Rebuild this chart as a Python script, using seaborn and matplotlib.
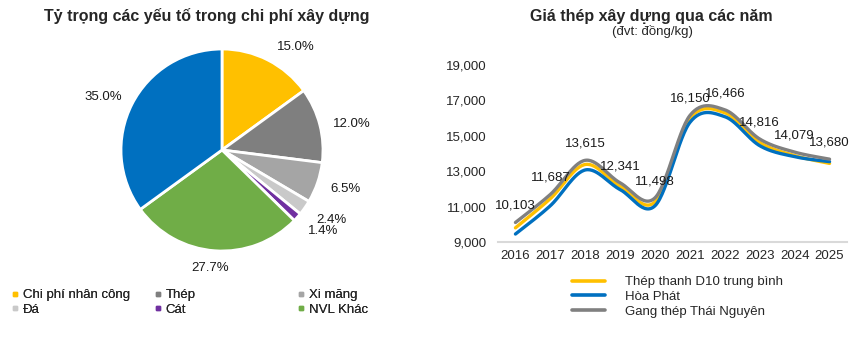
import numpy as np
import pandas as pd
import matplotlib
matplotlib.use("Agg")
import matplotlib.pyplot as plt
from matplotlib.lines import Line2D
import seaborn as sns

# pie data
pie_labels = ["Chi phí nhân công", "Thép", "Xi măng", "Đá", "Cát", "NVL Khác", ""]
pie_values = [15.0, 12.0, 6.5, 2.4, 1.4, 27.7, 35.0]
pie_colors = ["#FFC000", "#7F7F7F", "#A5A5A5", "#C9C9C9", "#7030A0", "#70AD47", "#0070C0"]

# steel price data (dong/kg)
years = [2016, 2017, 2018, 2019, 2020, 2021, 2022, 2023, 2024, 2025]
d10_avg = [9800, 11450, 13380, 12150, 11270, 15980, 16300, 14620, 13880, 13440]
hoa_phat = [9450, 11050, 13070, 11960, 11050, 15760, 16080, 14440, 13820, 13540]
gang_tn = [10103, 11687, 13615, 12341, 11498, 16150, 16466, 14816, 14079, 13680]
series_names = ["Thép thanh D10 trung bình", "Hòa Phát", "Gang thép Thái Nguyên"]
line_colors = ["#FFC000", "#0070C0", "#808080"]

sns.set_theme(style="white")
plt.rcParams["font.family"] = ["Liberation Sans", "DejaVu Sans"]

W, H = 867, 356
fig = plt.figure(figsize=(W / 100, H / 100), dpi=100)


def fx(px):
    return px / W


def fy(py):
    return 1 - py / H


# ---------------- pie ----------------
cx, cy, r = 222, 150, 101
lim = 1.03
size = 2 * r * lim
ax1 = fig.add_axes([fx(cx - size / 2), fy(cy + size / 2), size / W, size / H])
ax1.pie(pie_values, colors=pie_colors, startangle=90, counterclock=False,
        wedgeprops=dict(edgecolor="white", linewidth=2))
ax1.set_xlim(-lim, lim)
ax1.set_ylim(-lim, lim)
ax1.axis("off")

# label spots (best fit style like excel)
label_pos = [(0.73, 1.02), (1.29, 0.26), (1.22, -0.39), (1.08, -0.69),
             (1.0, -0.80), (-0.12, -1.17), (-1.18, 0.52)]
for v, (lx, ly) in zip(pie_values, label_pos):
    ax1.text(lx, ly, f"{v:.1f}%", ha="center", va="center", fontsize=9.5, color="#1a1a1a")

fig.text(fx(207), fy(16), "Tỷ trọng các yếu tố trong chi phí xây dựng",
         ha="center", va="center", fontsize=11.5, fontweight="bold")

# legend in 3 columns, 2 rows
cols = [[0, 3], [1, 4], [2, 5]]
col_x = [11, 154, 297]
for ci, idx in enumerate(cols):
    handles = [Line2D([], [], marker="s", linestyle="", markersize=3.2,
                      color=pie_colors[i]) for i in idx]
    lg = fig.legend(handles, [pie_labels[i] for i in idx], loc="upper left",
                    bbox_to_anchor=(fx(col_x[ci]), fy(289)), frameon=False,
                    fontsize=9.5, handlelength=0.6, handletextpad=0.3,
                    labelspacing=0.2, borderpad=0, borderaxespad=0)
    fig.add_artist(lg)

# ---------------- line chart ----------------
ax2 = fig.add_axes([fx(498), fy(242), (847 - 498) / W, (242 - 65) / H])


def smooth(xs, ys, n=30):
    # catmull-rom style curve like excel "smoothed line"
    xs = np.asarray(xs, float)
    ys = np.asarray(ys, float)
    px = np.concatenate([[xs[0]], xs, [xs[-1]]])
    py = np.concatenate([[ys[0]], ys, [ys[-1]]])
    ox, oy = [], []
    for i in range(1, len(px) - 2):
        p0, p1, p2, p3 = (np.array([px[j], py[j]]) for j in (i - 1, i, i + 1, i + 2))
        c1 = p1 + (p2 - p0) / 6
        c2 = p2 - (p3 - p1) / 6
        t = np.linspace(0, 1, n, endpoint=(i == len(px) - 3))[:, None]
        pts = (1 - t) ** 3 * p1 + 3 * (1 - t) ** 2 * t * c1 + 3 * (1 - t) * t ** 2 * c2 + t ** 3 * p2
        ox.extend(pts[:, 0])
        oy.extend(pts[:, 1])
    return np.array(ox), np.array(oy)


xi = np.arange(len(years))
frames = []
for name, vals in zip(series_names, [d10_avg, hoa_phat, gang_tn]):
    sx, sy = smooth(xi, vals)
    frames.append(pd.DataFrame({"x": sx, "y": sy, "series": name}))
df = pd.concat(frames, ignore_index=True)

sns.lineplot(data=df, x="x", y="y", hue="series", palette=line_colors,
             hue_order=series_names, sort=False, estimator=None,
             linewidth=2.4, ax=ax2, legend=False)

for i, v in enumerate(gang_tn):
    ax2.annotate(f"{v:,}", (i, v), textcoords="offset points", xytext=(0, 12),
                 ha="center", va="center", fontsize=9.5, color="#1a1a1a")

ax2.set_xlim(-0.5, 9.5)
ax2.set_ylim(9000, 19000)
ax2.set_yticks(range(9000, 19001, 2000))
ax2.set_yticklabels([f"{t:,}" for t in range(9000, 19001, 2000)])
ax2.set_xticks(xi)
ax2.set_xticklabels([str(y) for y in years])
ax2.tick_params(axis="y", length=0, pad=8, labelsize=9.5)
ax2.tick_params(axis="x", length=0, pad=6, labelsize=9.5)
ax2.set_xlabel("")
ax2.set_ylabel("")
for s in ["left", "right", "top"]:
    ax2.spines[s].set_visible(False)
ax2.spines["bottom"].set_color("#D9D9D9")
ax2.spines["bottom"].set_linewidth(1.5)
ax2.patch.set_alpha(0)

fig.text(fx(651), fy(16), "Giá thép xây dựng qua các năm", ha="center", va="center",
         fontsize=11.5, fontweight="bold")
fig.text(fx(652), fy(32), "(đvt: đồng/kg)", ha="center", va="center", fontsize=9.5)

handles = [Line2D([], [], color=c, linewidth=2.6) for c in line_colors]
fig.legend(handles, series_names, loc="upper left", bbox_to_anchor=(fx(572), fy(276)),
           frameon=False, fontsize=9.5, handlelength=2.5, handletextpad=1.5,
           labelspacing=0.2, borderpad=0, borderaxespad=0)

fig.savefig("out.png", dpi=100, facecolor="white")
